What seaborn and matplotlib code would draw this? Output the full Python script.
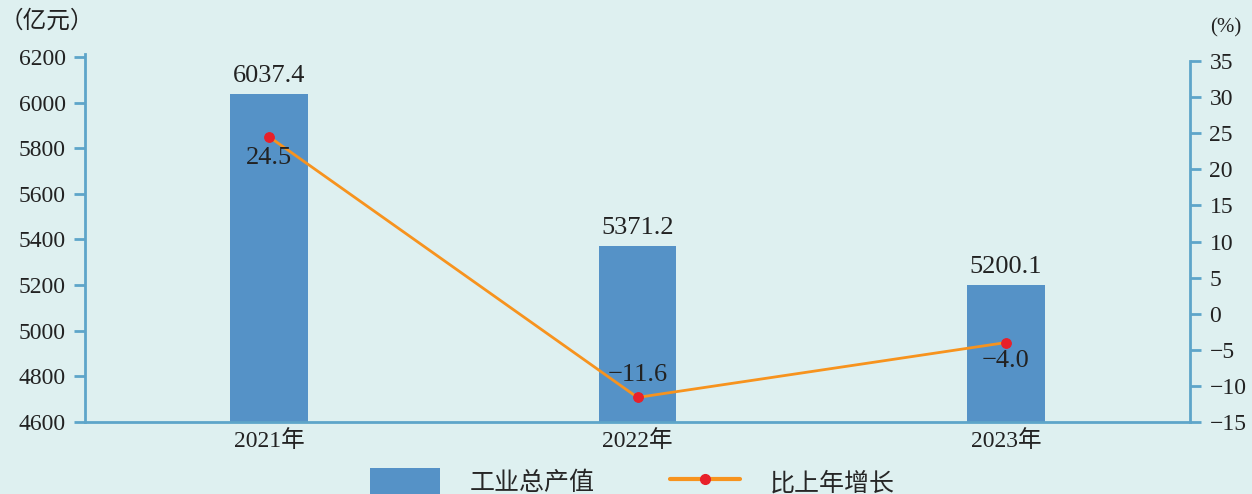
import numpy as np
import pandas as pd
import matplotlib
matplotlib.use("Agg")
import matplotlib.pyplot as plt
import seaborn as sns
from matplotlib.patches import Patch
from matplotlib.lines import Line2D

# data
years = ["2021年", "2022年", "2023年"]
output = [6037.4, 5371.2, 5200.1]      # 工业总产值（亿元）
growth = [24.5, -11.6, -4.0]           # 比上年增长（%）

bg = "#DEF0F0"
bar_c = "#5592C7"
axis_c = "#5EA5C9"
line_c = "#F7931E"
dot_c = "#E8202A"
txt_c = "#222222"

sns.set_style("white")
plt.rcParams["font.family"] = ["Liberation Serif", "Noto Sans CJK SC"]
plt.rcParams["axes.unicode_minus"] = True

fig = plt.figure(figsize=(12.52, 4.94), dpi=100, facecolor=bg)
ax = fig.add_axes([85 / 1252, 72 / 494, 1105 / 1252, 368 / 494])
ax.set_facecolor(bg)

df = pd.DataFrame({"year": years, "output": output, "growth": growth})
sns.barplot(data=df, x="year", y="output", color=bar_c, width=0.21,
            saturation=1, linewidth=0, edgecolor="none", ax=ax)
ax.set_xlim(-0.5, 2.5)
ax.set_ylim(4600, 4600 + 1600 * 368 / 365)
ax.set_yticks(np.arange(4600, 6201, 200))
ax.set_xlabel("")
ax.set_ylabel("")
ax.bar_label(ax.containers[0], labels=[f"{v:.1f}" for v in output],
             padding=5, fontsize=19, color=txt_c)

# secondary axis for growth rate
ax2 = ax.twinx()
sns.lineplot(x=np.arange(len(growth)), y=growth, ax=ax2, color=line_c,
             linewidth=2, marker="o", markersize=7,
             markerfacecolor=dot_c, markeredgecolor=dot_c)
ax2.set_ylim(-15, -15 + 50 * 368 / 361)
ax2.set_yticks(np.arange(-15, 36, 5))
offsets = [-15, 16, -13]
for i, v in enumerate(growth):
    ax2.annotate(f"{v:.1f}".replace("-", "\u2212"), (i, v),
                 xytext=(0, offsets[i]), textcoords="offset points",
                 ha="center", va="center", fontsize=19, color=txt_c)

for a in (ax, ax2):
    for s in a.spines.values():
        s.set_visible(False)
    a.grid(False)

ax.spines["left"].set_visible(True)
ax.spines["bottom"].set_visible(True)
ax2.spines["right"].set_visible(True)
ax2.spines["right"].set_bounds(-15, 35)
for s in (ax.spines["left"], ax.spines["bottom"], ax2.spines["right"]):
    s.set_color(axis_c)
    s.set_linewidth(2)

ax.tick_params(axis="y", direction="out", length=8, width=2, color=axis_c,
               labelsize=17, labelcolor=txt_c, pad=6)
ax.tick_params(axis="x", which="major", length=0, labelsize=17,
               labelcolor=txt_c, pad=6)
ax.set_xticks([0.5, 1.5], minor=True)
ax.tick_params(axis="x", which="minor", direction="in", length=6, width=1.5,
               color=axis_c)
ax2.tick_params(axis="y", direction="out", length=8, width=2, color=axis_c,
                labelsize=17, labelcolor=txt_c, pad=6)

fig.text(0 / 1252, 1 - 21 / 494, "（亿元）", fontsize=17, color=txt_c,
         va="center", ha="left")
fig.text(1226 / 1252, 1 - 28 / 494, "(%)", fontsize=15, color=txt_c,
         va="center", ha="center")

handles = [Patch(facecolor=bar_c, edgecolor="none"),
           Line2D([0], [0], color=line_c, linewidth=3, marker="o",
                  markersize=7, markerfacecolor=dot_c, markeredgecolor=dot_c)]
fig.legend(handles, ["工业总产值", "比上年增长"], loc="center",
           bbox_to_anchor=(0.505, 1 - 482 / 494), ncol=2, frameon=False,
           fontsize=18, handlelength=2.8, handleheight=1.3,
           handletextpad=1.2, columnspacing=3.0)

fig.savefig("out.png", dpi=100, facecolor=bg)
